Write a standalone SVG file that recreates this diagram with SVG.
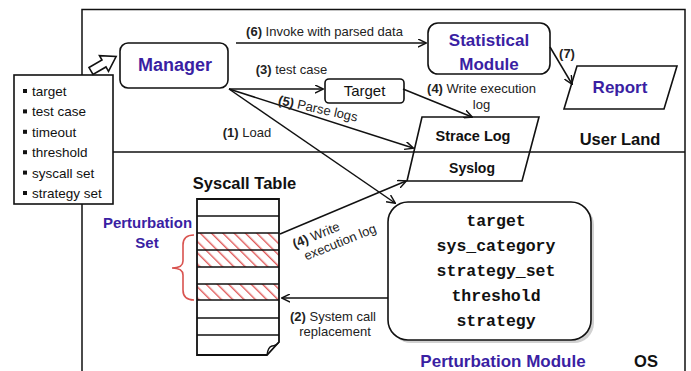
<svg xmlns="http://www.w3.org/2000/svg" width="691" height="371" viewBox="0 0 691 371">
<defs>
<style>
.ln{fill:none;stroke:#111;stroke-width:1.5}
.box{fill:#fff;stroke:#111;stroke-width:1.6}
.lbl{font-family:"Liberation Sans",Arial,sans-serif;font-size:13px;fill:#222}
.pt{font-family:"Liberation Sans",Arial,sans-serif;font-weight:bold;fill:#3a1fa3}
.bk{font-family:"Liberation Sans",Arial,sans-serif;font-weight:bold;fill:#111}
.mono{font-family:"Liberation Mono","Courier New",monospace;font-weight:bold;font-size:16.5px;fill:#111}
.li{font-family:"Liberation Sans",Arial,sans-serif;font-size:13.5px;fill:#111}
</style>
<marker id="ah" viewBox="0 0 10 10" refX="9" refY="5" markerWidth="9" markerHeight="9" markerUnits="userSpaceOnUse" orient="auto">
<path d="M0,0.5 L9.5,5 L0,9.5" fill="none" stroke="#111" stroke-width="1.6"/>
</marker>
<pattern id="hatch" patternUnits="userSpaceOnUse" width="8" height="8" patternTransform="rotate(-45)">
<line x1="0" y1="0" x2="0" y2="8" stroke="#e05a5a" stroke-width="2.8"/>
</pattern>
</defs>

<!-- frame -->
<g id="frame">
<path class="ln" d="M82,371 V9.5 H685 V371"/>
<line class="ln" x1="113" y1="152" x2="685" y2="152"/>
</g>

<!-- params list -->
<g id="params">
<rect class="box" x="14" y="75" width="99" height="129"/>
<g fill="#111">
<rect x="23" y="89" width="4" height="4"/>
<rect x="23" y="109.4" width="4" height="4"/>
<rect x="23" y="129.8" width="4" height="4"/>
<rect x="23" y="150.2" width="4" height="4"/>
<rect x="23" y="170.6" width="4" height="4"/>
<rect x="23" y="191" width="4" height="4"/>
</g>
<text class="li" x="32" y="96">target</text>
<text class="li" x="32" y="116.4">test case</text>
<text class="li" x="32" y="136.8">timeout</text>
<text class="li" x="32" y="157.2">threshold</text>
<text class="li" x="32" y="177.6">syscall set</text>
<text class="li" x="32" y="198">strategy set</text>
</g>

<!-- hollow arrow -->
<g id="input-arrow">
<polygon points="0,-4 15,-4 15,-9 29,0 15,9 15,4 0,4" fill="#fff" stroke="#111" stroke-width="1.6" transform="translate(91,71) rotate(-30)"/>
</g>

<!-- Manager -->
<g id="manager">
<rect class="box" x="120" y="43" width="108" height="45" rx="8"/>
<text class="pt" x="175" y="71" font-size="18" text-anchor="middle">Manager</text>
</g>

<!-- Statistical module -->
<g id="statistical">
<rect class="box" x="428" y="23" width="122" height="51" rx="10"/>
<text class="pt" x="489" y="46" font-size="17" text-anchor="middle">Statistical</text>
<text class="pt" x="489" y="70" font-size="17" text-anchor="middle">Module</text>
</g>

<!-- Report -->
<g id="report">
<polygon class="box" points="577,66 677,66 664,109 564,109"/>
<text class="pt" x="620" y="93" font-size="17" text-anchor="middle">Report</text>
</g>

<!-- Target -->
<g id="target">
<rect class="box" x="325" y="79" width="79" height="24" rx="4"/>
<text x="364.5" y="96" font-family="Liberation Sans,Arial,sans-serif" font-size="15" fill="#111" text-anchor="middle">Target</text>
</g>

<!-- Strace Log / Syslog -->
<g id="logs">
<polygon points="422,117 539,117 522,181 407,181" fill="none" stroke="#111" stroke-width="1.6"/>
<text class="bk" x="473" y="141" font-size="14.5" text-anchor="middle">Strace Log</text>
<text class="bk" x="472" y="173" font-size="14" text-anchor="middle">Syslog</text>
</g>

<text class="bk" x="620" y="145" font-size="16.5" text-anchor="middle">User Land</text>

<!-- Syscall table -->
<g id="syscall-table">
<text class="bk" x="244.5" y="189" font-size="16.5" text-anchor="middle">Syscall Table</text>
<rect x="197" y="233" width="82" height="17" fill="url(#hatch)"/>
<rect x="197" y="250" width="82" height="17" fill="url(#hatch)"/>
<rect x="197" y="284" width="82" height="16" fill="url(#hatch)"/>
<path d="M197,199 H279 V342 L267,355 H197 Z" fill="none" stroke="#111" stroke-width="1.8"/>
<path d="M267,355 Q268,347 272,346 Q276,346 279,342" fill="none" stroke="#111" stroke-width="1.4"/>
<g stroke="#111" stroke-width="1.6">
<line x1="197" y1="216" x2="279" y2="216"/>
<line x1="197" y1="233" x2="279" y2="233"/>
<line x1="197" y1="250" x2="279" y2="250"/>
<line x1="197" y1="267" x2="279" y2="267"/>
<line x1="197" y1="284" x2="279" y2="284"/>
<line x1="197" y1="300" x2="279" y2="300"/>
<line x1="197" y1="318" x2="279" y2="318"/>
<line x1="197" y1="335" x2="279" y2="335"/>
</g>
</g>

<!-- Perturbation set -->
<g id="perturbation-set">
<text class="pt" x="147.5" y="228" font-size="15" text-anchor="middle">Perturbation</text>
<text class="pt" x="147" y="248" font-size="15" text-anchor="middle">Set</text>
<path d="M194,235 Q183,235 183,245 L183,261 Q183,268 172,268 Q183,268 183,275 L183,290 Q183,300 194,300" fill="none" stroke="#d9534f" stroke-width="1.6"/>
</g>

<!-- Perturbation module -->
<g id="perturbation-module">
<rect x="391" y="205" width="203" height="138" rx="20" fill="#999" opacity="0.45"/>
<rect class="box" x="388" y="202" width="203" height="138" rx="20"/>
<text class="mono" x="496" y="226" text-anchor="middle">target</text>
<text class="mono" x="496" y="251" text-anchor="middle">sys_category</text>
<text class="mono" x="496" y="276" text-anchor="middle">strategy_set</text>
<text class="mono" x="496" y="301" text-anchor="middle">threshold</text>
<text class="mono" x="496" y="326" text-anchor="middle">strategy</text>
</g>
<text class="pt" x="503" y="367" font-size="17" text-anchor="middle">Perturbation Module</text>
<text class="bk" x="646" y="367" font-size="16.5" text-anchor="middle">OS</text>

<!-- connectors -->
<g id="connectors" class="ln" marker-end="url(#ah)">
<line x1="236" y1="43" x2="426" y2="43"/>
<line x1="229" y1="89" x2="323" y2="89"/>
<line x1="229" y1="89" x2="413" y2="148"/>
<line x1="229" y1="89" x2="395" y2="203"/>
<line x1="403" y1="89" x2="472" y2="117"/>
<line x1="550" y1="47" x2="572" y2="84"/>
<line x1="280" y1="234" x2="406" y2="181"/>
<line x1="388" y1="298" x2="282" y2="298"/>
</g>

<!-- connector labels -->
<g id="labels">
<text class="lbl" x="324.5" y="36" text-anchor="middle"><tspan font-weight="bold">(6)</tspan> Invoke with parsed data</text>
<text class="lbl" x="291.5" y="74" text-anchor="middle"><tspan font-weight="bold">(3)</tspan> test case</text>
<text class="lbl" x="247" y="137" text-anchor="middle"><tspan font-weight="bold">(1)</tspan> Load</text>
<text class="lbl" x="567" y="58" text-anchor="middle" font-weight="bold">(7)</text>
<text class="lbl" x="481.5" y="93" text-anchor="middle"><tspan font-weight="bold">(4)</tspan> Write execution</text>
<text class="lbl" x="481.5" y="108.5" text-anchor="middle">log</text>
<g transform="translate(318,108.5) rotate(12.5)">
<text class="lbl" x="0" y="4.5" text-anchor="middle"><tspan font-weight="bold">(5)</tspan> Parse logs</text>
</g>
<g transform="translate(316,235) rotate(-22)">
<text class="lbl" x="0" y="4.5" text-anchor="middle"><tspan font-weight="bold">(4)</tspan> Write</text>
<text class="lbl" x="19.6" y="20" text-anchor="middle">execution log</text>
</g>
<text class="lbl" x="333" y="321" text-anchor="middle"><tspan font-weight="bold">(2)</tspan> System call</text>
<text class="lbl" x="335" y="336" text-anchor="middle">replacement</text>
</g>
</svg>
